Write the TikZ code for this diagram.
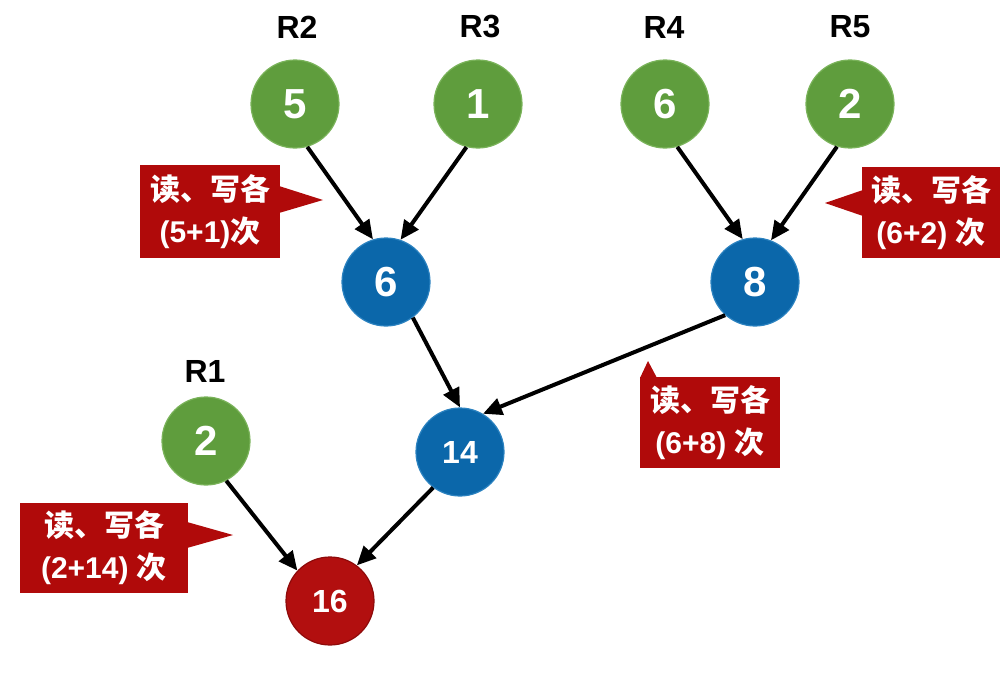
\documentclass[tikz,border=0pt]{standalone}
\usepackage{fontspec}
\setmainfont{Liberation Sans}
\newfontfamily\cjk{Noto Sans CJK SC}
\usetikzlibrary{arrows.meta}
\definecolor{leafgreen}{HTML}{5F9D3D}
\definecolor{leafedge}{HTML}{7AB35A}
\definecolor{sumblue}{HTML}{0B67AA}
\definecolor{sumedge}{HTML}{2B82C0}
\definecolor{rootred}{HTML}{B20F0F}
\definecolor{rootedge}{HTML}{8E0A0A}
\definecolor{tagred}{HTML}{B00A0A}
\begin{document}
\begin{tikzpicture}[x=1pt,y=-1pt,
  ball/.style={circle, minimum size=88pt, inner sep=0pt, line width=1.2pt,
    text=white, font=\bfseries\fontsize{42}{42}\selectfont},
  leaf/.style={ball, fill=leafgreen, draw=leafedge},
  sum/.style={ball, fill=sumblue, draw=sumedge},
  root/.style={ball, fill=rootred, draw=rootedge},
  small/.style={font=\bfseries\fontsize{32}{32}\selectfont},
  runname/.style={font=\bfseries\fontsize{32}{32}\selectfont, text=black},
  link/.style={line width=4pt, -{Triangle[length=19pt,width=17pt]}},
  tagbox/.style={fill=tagred, inner sep=0pt, text=white, align=center,
    font=\bfseries\fontsize{30}{42}\selectfont}
]
\useasboundingbox (0,0) rectangle (1007,677);

% run labels
\node[runname] (n2) at (297,27) {R2};
\node[runname] (n3) at (480,27) {R3};
\node[runname] (n4) at (664,27) {R4};
\node[runname] (n5) at (850,27) {R5};
\node[runname] (n1) at (205,371) {R1};

% initial runs
\node[leaf] (g5) at (295,104) {5};
\node[leaf] (g1) at (478,104) {1};
\node[leaf] (g6) at (665,104) {6};
\node[leaf] (g2) at (850,104) {2};
\node[leaf] (h2) at (206,441) {2};

% merged runs
\node[sum] (b6) at (386,282) {6};
\node[sum] (b8) at (755,282) {8};
\node[sum, small] (b14) at (460,452) {14};
\node[root, small] (r16) at (330,601) {16};

% merge arrows
\draw[link] (g5.-74) -- (b6.107);
\draw[link] (g1.-105) -- (b6.71);
\draw[link] (g6.-74) -- (b8.106);
\draw[link] (g2.-107) -- (b8.69);
\draw[link] (b6.-53) -- (b14.90);
\draw[link] (b8.-132) -- (b14.59);
\draw[link] (h2.-63) -- (r16.137);
\draw[link] (b14.-127) -- (r16.53);

% cost tags
\node[tagbox, minimum width=140pt, minimum height=93pt] (t1) at (210,211.5)
  {{\cjk 读、写各}\\(5+1){\cjk 次}};
\fill[tagred] (279,186) -- (323,200) -- (279,213) -- cycle;

\node[tagbox, minimum width=138pt, minimum height=91pt] (t2) at (931,212.5)
  {{\cjk 读、写各}\\(6+2) {\cjk 次}};
\fill[tagred] (863,190) -- (825,203) -- (863,216) -- cycle;

\node[tagbox, minimum width=140pt, minimum height=91pt] (t3) at (710,422.5)
  {{\cjk 读、写各}\\(6+8) {\cjk 次}};
\fill[tagred] (640,378) -- (648,361) -- (657,378) -- cycle;

\node[tagbox, minimum width=168pt, minimum height=90pt] (t4) at (104,548)
  {{\cjk 读、写各}\\(2+14) {\cjk 次}};
\fill[tagred] (187,522) -- (233,535) -- (187,548) -- cycle;
\end{tikzpicture}
\end{document}
